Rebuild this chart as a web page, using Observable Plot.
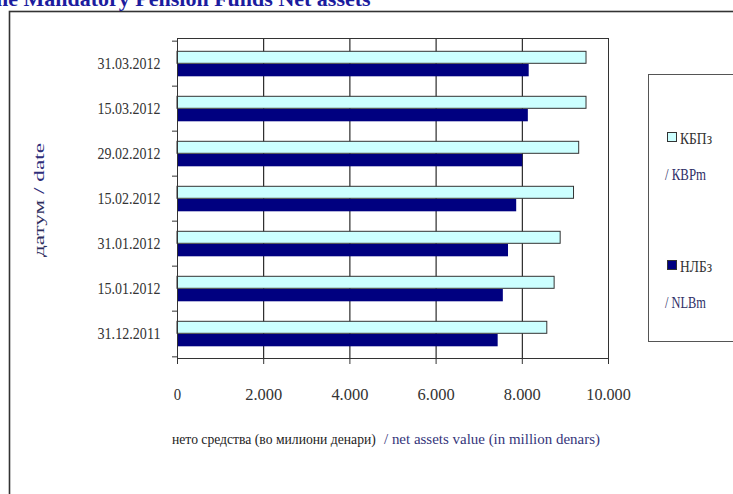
<!DOCTYPE html>
<html><head><meta charset="utf-8">
<script src="https://cdn.jsdelivr.net/npm/d3@7"></script>
<script src="https://cdn.jsdelivr.net/npm/@observablehq/plot@0.6"></script>
<style>
body{margin:0;background:#fff;}
#wrap{position:relative;width:733px;height:494px;overflow:hidden;font-family:"Liberation Serif",serif;background:#fff;}
#wrap svg{position:absolute;left:0;top:0;}
#wrap svg text{font-family:"Liberation Serif",serif;}
</style></head><body><div id="wrap"></div>
<script>
const dates = ["31.03.2012","15.03.2012","29.02.2012","15.02.2012","31.01.2012","15.01.2012","31.12.2011"];
const kbpValues = [9490,9490,9320,9200,8890,8750,8580];
const nlbValues = [8160,8140,8010,7870,7680,7560,7440];
const xTicks = [0,2000,4000,6000,8000,10000];
const titleText = "he Mandatory Pension Funds Net assets";
const yTitleParts = ["датум", " / date"];
const xTitleParts = ["нето средства (во милиони денари)", "/ net assets value (in million denars)"];
const legendA = ["КБПз", "/ КВРm"];
const legendB = ["НЛБз", "/ NLBm"];

const rows = dates.map((d,i)=>({date:d, kbp:kbpValues[i], nlb:nlbValues[i]}));
const wrap = d3.select("#wrap");

// overlay (frame, title, legend, axis titles)
const ov = wrap.append("svg").attr("width",733).attr("height",494);
ov.append("rect").attr("x",9.5).attr("y",11.5).attr("width",800).attr("height",600)
  .attr("fill","#fff").attr("stroke","#333").attr("stroke-width",1.6);
ov.append("text").attr("x",-4).attr("y",6)
  .attr("font-weight","bold").attr("font-size",22).attr("fill","#1c1c9e").text(titleText);

// legend
ov.append("rect").attr("x",648.5).attr("y",74.5).attr("width",120).attr("height",267)
  .attr("fill","#fff").attr("stroke","#555").attr("stroke-width",1);
function legendItem(y0, fill, parts){
  ov.append("rect").attr("x",667.5).attr("y",y0-5.5).attr("width",9).attr("height",9)
    .attr("fill",fill).attr("stroke","#333").attr("stroke-width",1);
  ov.append("text").attr("x",680).attr("y",y0+6).attr("font-size",17).attr("fill","#333")
    .attr("textLength",32).attr("lengthAdjust","spacingAndGlyphs").text(parts[0]);
  ov.append("text").attr("x",665).attr("y",y0+42).attr("font-size",17).attr("fill","#2e2e66")
    .attr("textLength",41).attr("lengthAdjust","spacingAndGlyphs").text(parts[1]);
}
legendItem(138, "#ccffff", legendA);
legendItem(266, "#000080", legendB);

// y title
const yt = ov.append("text").attr("transform","translate(44,200) rotate(-90)").attr("text-anchor","middle")
  .attr("font-size",15)
  .attr("textLength",114).attr("lengthAdjust","spacingAndGlyphs");
yt.append("tspan").attr("fill","#2e2e5e").text(yTitleParts[0]);
yt.append("tspan").attr("fill","#2e2e7a").text(yTitleParts[1]);

// x title (two parts), font sized to fit the reference widths
function fitText(x, y, txt, fill, target){
  const t = ov.append("text").attr("x",x).attr("y",y).attr("font-size",16).attr("fill",fill).text(txt);
  const len = t.node().getComputedTextLength();
  t.attr("font-size", (16*target/len).toFixed(2));
  return t;
}
fitText(172, 444, xTitleParts[0], "#222", 204);
fitText(384, 444, xTitleParts[1], "#35357a", 216);

const fmt = d => d3.format(",")(d).replace(/,/g,".");
const band = (358-38)/dates.length;

const chart = Plot.plot({
  width:733, height:494,
  marginLeft:177, marginRight:125, marginTop:38, marginBottom:136,
  style:{fontFamily:"Liberation Serif, serif", fontSize:"17px", color:"#333", background:"transparent"},
  x:{domain:[0,10000], label:null},
  y:{domain:dates, padding:0, label:null},
  marks:[
    Plot.ruleX(xTicks.slice(1,-1), {stroke:"#000", strokeWidth:1}),
    Plot.barX(rows,{y:"date", x:"kbp", fill:"#ccffff", stroke:"#333", strokeWidth:1, insetTop:10.3, insetBottom:22.7}),
    Plot.barX(rows,{y:"date", x:"nlb", fill:"#000080", insetTop:23, insetBottom:9.7}),
    Plot.frame({stroke:"#333"}),
    Plot.axisX({ticks:xTicks, tickSize:6, tickPadding:23, tickFormat:fmt, label:null, stroke:"#333", fontSize:17}),
    Plot.axisY({tickSize:0, tickPadding:17, label:null, fontSize:17}),
    Plot.axisY({tickSize:5, text:null, dy:-band/2, label:null, stroke:"#333"}),
    Plot.axisY({ticks:[dates[dates.length-1]], tickSize:5, text:null, dy:band/2, label:null, stroke:"#333"})
  ]
});
wrap.node().appendChild(chart);
// condense tick labels like the reference
d3.select(chart).selectAll("g[aria-label='y-axis tick label'] text")
  .attr("textLength",63).attr("lengthAdjust","spacingAndGlyphs");
d3.select(chart).selectAll("g[aria-label='x-axis tick label'] text")
  .each(function(){ const t=d3.select(this).text(); d3.select(this).attr("textLength", t.length*7.4).attr("lengthAdjust","spacingAndGlyphs"); });
</script></body></html>
